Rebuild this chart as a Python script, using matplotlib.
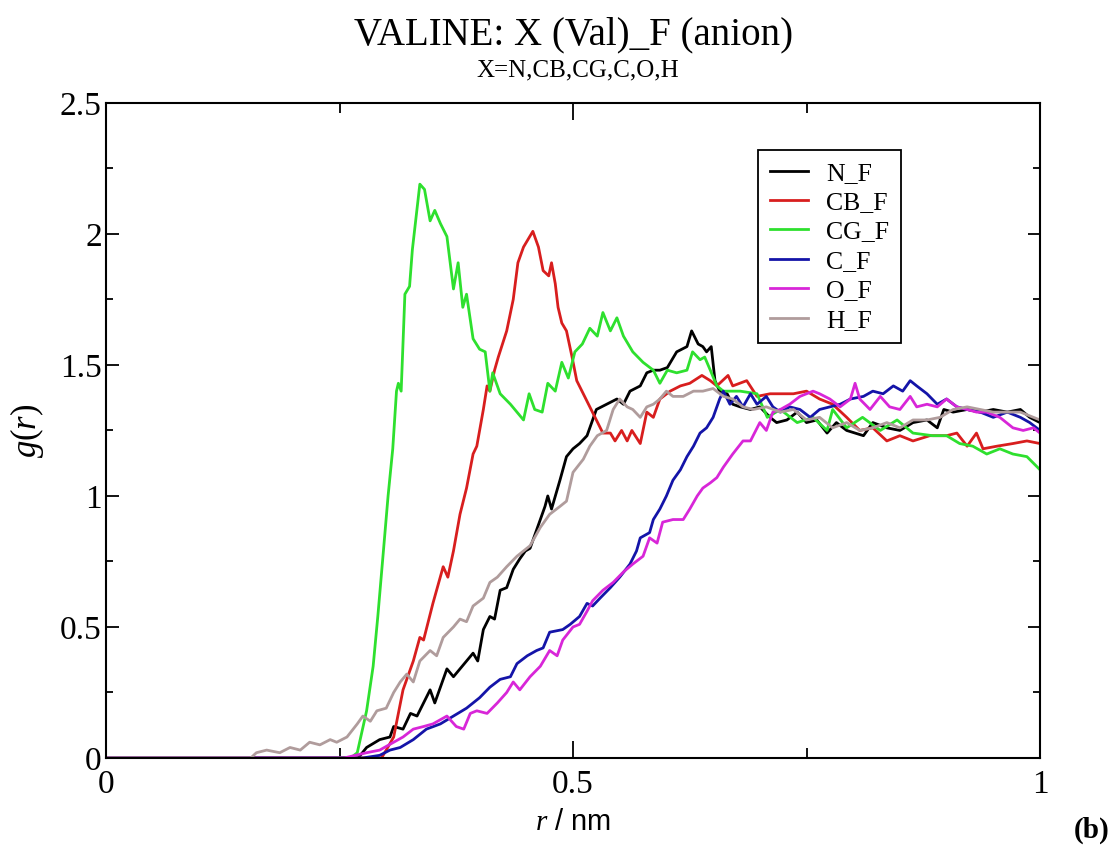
import numpy as np
import matplotlib
matplotlib.use("Agg")
import matplotlib.pyplot as plt

# Times-like look of the original xmgrace figure
plt.rcParams['font.family'] = ['Liberation Serif', 'DejaVu Serif']
plt.rcParams['mathtext.fontset'] = 'custom'
plt.rcParams['mathtext.rm'] = 'Liberation Serif'
plt.rcParams['mathtext.it'] = 'Liberation Serif:italic'

# --- data: (r / nm, g(r)) ---
n_f = [(0.0, 0.0), (0.270, 0.0), (0.279, 0.04), (0.293, 0.07), (0.304, 0.08), (0.308, 0.12),
       (0.318, 0.11), (0.326, 0.17), (0.333, 0.16), (0.347, 0.26), (0.352, 0.21), (0.365, 0.34),
       (0.372, 0.31), (0.386, 0.37), (0.393, 0.40), (0.398, 0.37), (0.404, 0.49), (0.411, 0.54),
       (0.416, 0.53), (0.422, 0.64), (0.429, 0.65), (0.436, 0.72), (0.443, 0.76), (0.449, 0.79),
       (0.454, 0.80), (0.462, 0.88), (0.470, 0.96), (0.473, 1.00), (0.477, 0.95), (0.486, 1.06),
       (0.493, 1.15), (0.500, 1.18), (0.507, 1.20), (0.515, 1.23), (0.525, 1.33), (0.536, 1.35),
       (0.547, 1.37), (0.554, 1.35), (0.561, 1.40), (0.572, 1.42), (0.579, 1.47), (0.586, 1.48),
       (0.593, 1.48), (0.601, 1.49), (0.611, 1.55), (0.622, 1.57), (0.627, 1.63), (0.634, 1.58),
       (0.639, 1.57), (0.643, 1.55), (0.648, 1.57), (0.652, 1.44), (0.657, 1.40), (0.665, 1.39),
       (0.671, 1.35), (0.679, 1.34), (0.690, 1.33), (0.700, 1.34), (0.711, 1.30), (0.718, 1.28),
       (0.729, 1.29), (0.740, 1.32), (0.750, 1.28), (0.761, 1.29), (0.772, 1.24), (0.782, 1.28),
       (0.793, 1.25), (0.811, 1.23), (0.821, 1.28), (0.836, 1.26), (0.850, 1.25), (0.864, 1.28),
       (0.879, 1.29), (0.890, 1.26), (0.897, 1.33), (0.907, 1.32), (0.922, 1.33), (0.936, 1.32),
       (0.950, 1.33), (0.965, 1.32), (0.979, 1.33), (0.989, 1.30), (1.000, 1.28)]

cb_f = [(0.0, 0.0), (0.295, 0.0), (0.300, 0.03), (0.308, 0.08), (0.318, 0.26), (0.329, 0.37),
        (0.336, 0.46), (0.340, 0.45), (0.350, 0.59), (0.361, 0.73), (0.366, 0.69), (0.372, 0.79),
        (0.379, 0.93), (0.386, 1.03), (0.393, 1.16), (0.397, 1.19), (0.404, 1.33), (0.408, 1.42),
        (0.411, 1.40), (0.416, 1.48), (0.420, 1.53), (0.429, 1.63), (0.436, 1.75), (0.441, 1.89),
        (0.447, 1.95), (0.452, 1.98), (0.457, 2.01), (0.463, 1.95), (0.468, 1.86), (0.474, 1.84),
        (0.477, 1.89), (0.481, 1.81), (0.484, 1.72), (0.488, 1.66), (0.493, 1.63), (0.499, 1.53),
        (0.504, 1.44), (0.511, 1.39), (0.518, 1.34), (0.525, 1.29), (0.532, 1.24), (0.540, 1.24),
        (0.545, 1.21), (0.552, 1.25), (0.558, 1.21), (0.563, 1.25), (0.572, 1.20), (0.579, 1.32),
        (0.586, 1.30), (0.593, 1.37), (0.604, 1.40), (0.615, 1.42), (0.625, 1.43), (0.638, 1.46),
        (0.647, 1.44), (0.654, 1.42), (0.666, 1.46), (0.671, 1.42), (0.686, 1.44), (0.697, 1.38),
        (0.711, 1.39), (0.722, 1.39), (0.736, 1.39), (0.750, 1.40), (0.764, 1.37), (0.778, 1.35),
        (0.793, 1.30), (0.807, 1.25), (0.821, 1.26), (0.836, 1.21), (0.850, 1.23), (0.864, 1.21),
        (0.882, 1.23), (0.900, 1.23), (0.911, 1.24), (0.922, 1.19), (0.932, 1.24), (0.939, 1.18),
        (0.954, 1.19), (0.971, 1.20), (0.986, 1.21), (1.000, 1.20)]

cg_f = [(0.0, 0.0), (0.262, 0.0), (0.269, 0.02), (0.279, 0.18), (0.286, 0.35), (0.291, 0.54),
        (0.297, 0.79), (0.302, 1.00), (0.307, 1.18), (0.311, 1.40), (0.313, 1.43), (0.316, 1.40),
        (0.320, 1.77), (0.325, 1.80), (0.328, 1.94), (0.336, 2.19), (0.341, 2.17), (0.347, 2.05),
        (0.352, 2.09), (0.358, 2.04), (0.365, 1.99), (0.372, 1.79), (0.377, 1.89), (0.382, 1.72),
        (0.386, 1.77), (0.393, 1.60), (0.400, 1.56), (0.406, 1.55), (0.411, 1.40), (0.414, 1.47),
        (0.422, 1.39), (0.433, 1.35), (0.447, 1.29), (0.453, 1.39), (0.459, 1.33), (0.467, 1.32),
        (0.473, 1.43), (0.481, 1.40), (0.488, 1.51), (0.495, 1.45), (0.502, 1.55), (0.510, 1.58),
        (0.518, 1.64), (0.526, 1.61), (0.532, 1.70), (0.540, 1.63), (0.547, 1.68), (0.554, 1.61),
        (0.564, 1.55), (0.575, 1.51), (0.586, 1.48), (0.593, 1.43), (0.601, 1.48), (0.611, 1.47),
        (0.622, 1.48), (0.628, 1.55), (0.636, 1.52), (0.641, 1.53), (0.647, 1.48), (0.654, 1.42),
        (0.661, 1.40), (0.679, 1.40), (0.697, 1.39), (0.708, 1.30), (0.722, 1.33), (0.740, 1.28),
        (0.757, 1.30), (0.772, 1.25), (0.778, 1.33), (0.793, 1.26), (0.810, 1.30), (0.829, 1.25),
        (0.847, 1.29), (0.864, 1.24), (0.885, 1.23), (0.900, 1.23), (0.914, 1.20), (0.928, 1.19),
        (0.943, 1.16), (0.957, 1.18), (0.971, 1.16), (0.986, 1.15), (1.000, 1.10)]

c_f = [(0.0, 0.0), (0.275, 0.0), (0.293, 0.01), (0.304, 0.03), (0.315, 0.04), (0.329, 0.07),
       (0.343, 0.11), (0.358, 0.13), (0.372, 0.16), (0.386, 0.19), (0.400, 0.23), (0.411, 0.27),
       (0.422, 0.30), (0.433, 0.31), (0.440, 0.36), (0.451, 0.39), (0.461, 0.41), (0.468, 0.42),
       (0.475, 0.48), (0.489, 0.49), (0.497, 0.51), (0.507, 0.54), (0.515, 0.59), (0.521, 0.58),
       (0.529, 0.61), (0.540, 0.65), (0.550, 0.69), (0.561, 0.74), (0.568, 0.79), (0.572, 0.84),
       (0.582, 0.86), (0.586, 0.91), (0.593, 0.95), (0.600, 1.00), (0.607, 1.06), (0.615, 1.10),
       (0.622, 1.15), (0.629, 1.19), (0.636, 1.24), (0.643, 1.26), (0.650, 1.30), (0.657, 1.37),
       (0.661, 1.40), (0.668, 1.35), (0.675, 1.38), (0.682, 1.34), (0.690, 1.39), (0.697, 1.35),
       (0.707, 1.38), (0.714, 1.34), (0.722, 1.32), (0.732, 1.34), (0.743, 1.33), (0.754, 1.30),
       (0.764, 1.33), (0.775, 1.34), (0.786, 1.35), (0.797, 1.37), (0.811, 1.38), (0.821, 1.40),
       (0.832, 1.39), (0.843, 1.42), (0.853, 1.40), (0.861, 1.44), (0.868, 1.42), (0.879, 1.39),
       (0.890, 1.35), (0.900, 1.37), (0.911, 1.34), (0.922, 1.33), (0.936, 1.32), (0.950, 1.30),
       (0.965, 1.32), (0.979, 1.30), (0.989, 1.28), (1.000, 1.25)]

o_f = [(0.0, 0.0), (0.255, 0.0), (0.279, 0.02), (0.293, 0.03), (0.308, 0.06), (0.318, 0.08),
       (0.329, 0.11), (0.340, 0.12), (0.350, 0.13), (0.365, 0.16), (0.375, 0.12), (0.383, 0.11),
       (0.390, 0.17), (0.397, 0.18), (0.408, 0.17), (0.419, 0.21), (0.429, 0.25), (0.436, 0.29),
       (0.443, 0.26), (0.454, 0.31), (0.465, 0.35), (0.475, 0.41), (0.483, 0.39), (0.489, 0.45),
       (0.500, 0.50), (0.507, 0.51), (0.515, 0.56), (0.521, 0.60), (0.532, 0.64), (0.543, 0.67),
       (0.554, 0.71), (0.564, 0.74), (0.575, 0.77), (0.582, 0.84), (0.590, 0.82), (0.596, 0.90),
       (0.607, 0.91), (0.618, 0.91), (0.625, 0.95), (0.633, 1.00), (0.639, 1.03), (0.647, 1.05),
       (0.654, 1.07), (0.661, 1.11), (0.671, 1.16), (0.682, 1.21), (0.690, 1.21), (0.700, 1.28),
       (0.707, 1.25), (0.714, 1.32), (0.722, 1.33), (0.732, 1.35), (0.743, 1.38), (0.757, 1.40),
       (0.764, 1.39), (0.775, 1.37), (0.786, 1.34), (0.797, 1.37), (0.802, 1.43), (0.807, 1.37),
       (0.818, 1.33), (0.829, 1.38), (0.839, 1.34), (0.850, 1.33), (0.861, 1.38), (0.868, 1.34),
       (0.879, 1.35), (0.890, 1.34), (0.900, 1.37), (0.911, 1.34), (0.922, 1.33), (0.932, 1.32),
       (0.943, 1.32), (0.957, 1.30), (0.971, 1.26), (0.982, 1.25), (0.993, 1.26), (1.000, 1.24)]

h_f = [(0.0, 0.0), (0.155, 0.0), (0.161, 0.02), (0.172, 0.03), (0.186, 0.02), (0.197, 0.04),
       (0.208, 0.03), (0.218, 0.06), (0.229, 0.05), (0.240, 0.07), (0.247, 0.06), (0.258, 0.08),
       (0.269, 0.13), (0.275, 0.16), (0.283, 0.14), (0.290, 0.18), (0.300, 0.19), (0.308, 0.25),
       (0.315, 0.29), (0.322, 0.32), (0.329, 0.29), (0.336, 0.37), (0.347, 0.41), (0.354, 0.39),
       (0.361, 0.46), (0.372, 0.50), (0.379, 0.53), (0.386, 0.52), (0.393, 0.58), (0.404, 0.61),
       (0.411, 0.67), (0.419, 0.69), (0.429, 0.73), (0.440, 0.77), (0.454, 0.81), (0.465, 0.88),
       (0.475, 0.93), (0.486, 0.96), (0.493, 0.98), (0.500, 1.09), (0.511, 1.14), (0.518, 1.19),
       (0.526, 1.23), (0.536, 1.25), (0.543, 1.33), (0.550, 1.37), (0.558, 1.34), (0.564, 1.33),
       (0.572, 1.30), (0.579, 1.34), (0.586, 1.35), (0.593, 1.37), (0.600, 1.40), (0.607, 1.38),
       (0.618, 1.38), (0.629, 1.40), (0.639, 1.40), (0.650, 1.41), (0.661, 1.38), (0.671, 1.37),
       (0.682, 1.34), (0.693, 1.33), (0.707, 1.34), (0.722, 1.32), (0.736, 1.33), (0.750, 1.29),
       (0.764, 1.30), (0.778, 1.26), (0.793, 1.28), (0.807, 1.25), (0.821, 1.26), (0.836, 1.28),
       (0.850, 1.26), (0.864, 1.29), (0.879, 1.29), (0.893, 1.30), (0.907, 1.33), (0.922, 1.34),
       (0.936, 1.33), (0.950, 1.32), (0.965, 1.32), (0.979, 1.32), (0.993, 1.30), (1.000, 1.29)]

labels = ['N_F', 'CB_F', 'CG_F', 'C_F', 'O_F', 'H_F']
colors = ['#000000', '#d81e1e', '#2ee02e', '#1414a8', '#d826d8', '#b09c9c']
series = [n_f, cb_f, cg_f, c_f, o_f, h_f]

x_ticks = [0, 0.5, 1]
x_ticklabels = ['0', '0.5', '1']
y_ticks = [0, 0.5, 1, 1.5, 2, 2.5]
y_ticklabels = ['0', '0.5', '1', '1.5', '2', '2.5']

fig = plt.figure(figsize=(11.16, 8.55), dpi=100)
ax = fig.add_axes([0.0950, 0.1135, 0.8369, 0.7661])

for data, lab, col in zip(series, labels, colors):
    r, g = np.array(data).T
    ax.plot(r, g, color=col, lw=2.0, label=lab)

ax.set_xlim(0, 1)
ax.set_ylim(0, 2.5)
ax.set_xticks(x_ticks)
ax.set_xticklabels(x_ticklabels)
ax.set_yticks(y_ticks)
ax.set_yticklabels(y_ticklabels)
ax.set_xticks([0.25, 0.75], minor=True)
ax.set_yticks([0.25, 0.75, 1.25, 1.75, 2.25], minor=True)

# grace-style inward ticks on all four sides
ax.tick_params(which='both', direction='in', top=True, right=True, width=1.3, labelsize=24)
ax.tick_params(axis='x', which='major', length=12, pad=8)
ax.tick_params(axis='x', which='minor', length=7)
ax.tick_params(axis='y', which='major', length=9, pad=3)
ax.tick_params(axis='y', which='minor', length=5)
for sp in ax.spines.values():
    sp.set_linewidth(1.5)

ax.set_xlabel(r'$r$ / nm', fontsize=21, family='Liberation Sans', labelpad=6)
ax.set_ylabel(r'$g(r)$', fontsize=25, labelpad=10)

# title and subtitle
fig.text(0.514, 0.9485, 'VALINE: X (Val)_F (anion)', fontsize=28, ha='center', va='baseline')
fig.text(0.518, 0.910, 'X=N,CB,CG,C,O,H', fontsize=18, ha='center', va='baseline')

leg = ax.legend(loc='upper left', bbox_to_anchor=(0.698, 0.928), fontsize=18.5,
                frameon=True, fancybox=False, framealpha=1, edgecolor='black',
                handlelength=1.5, handletextpad=0.7, labelspacing=0.25, borderpad=0.45,
                borderaxespad=0)
leg.get_frame().set_linewidth(1.3)

fig.text(0.994, 0.02, '(b)', fontsize=21, fontweight='bold', ha='right', va='baseline')

fig.savefig('out.png', dpi=100)
